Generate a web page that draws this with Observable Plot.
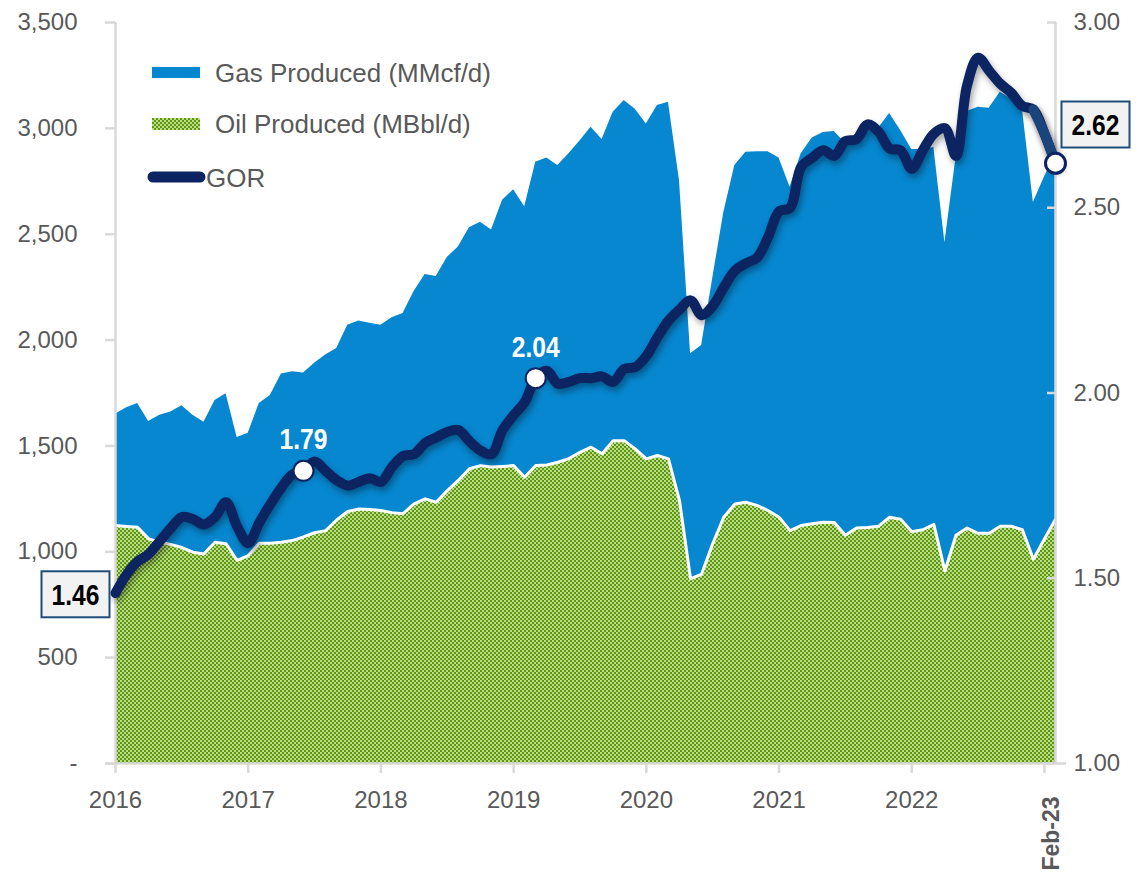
<!DOCTYPE html>
<html><head><meta charset="utf-8">
<script src="https://cdn.jsdelivr.net/npm/d3@7"></script>
<script src="https://cdn.jsdelivr.net/npm/@observablehq/plot@0.6"></script>
<style>html,body{margin:0;padding:0;background:#fff;}#chart{width:1140px;height:876px;}</style>
</head><body><div id="chart"></div>
<script>
// Monthly data, Jan-2016 (index 0) to Feb-2023 (index 85)
const gas = [1650,1680,1700,1615,1645,1660,1690,1645,1612,1714,1747,1540,
  1560,1700,1738,1840,1850,1845,1890,1930,1960,2070,2090,2080,
  2070,2105,2125,2230,2310,2300,2390,2440,2530,2557,2520,2660,
  2710,2630,2840,2860,2825,2880,2940,3005,2947,3076,3131,3090,
  3020,3108,3123,2753,1935,1974,2290,2600,2824,2887,2890,2890,
  2860,2722,2880,2955,2980,2985,2930,2960,2990,3000,3070,2990,
  2900,2900,2910,2460,2860,3080,3100,3095,3170,3140,3095,2650,
  2770,2880];
const oil = [1124,1120,1116,1061,1045,1035,1020,998,990,1045,1038,959,
  982,1040,1040,1045,1053,1070,1090,1100,1150,1190,1202,1200,
  1195,1185,1180,1226,1250,1234,1289,1337,1392,1407,1400,1403,
  1407,1352,1407,1410,1423,1440,1470,1494,1463,1525,1525,1486,
  1439,1455,1439,1242,872,895,1038,1163,1226,1234,1219,1195,
  1163,1100,1124,1132,1140,1138,1078,1112,1115,1121,1163,1154,
  1095,1104,1129,910,1078,1112,1087,1087,1121,1121,1104,965,
  1060,1154];
const gor = [1.46,1.51,1.545,1.565,1.60,1.635,1.665,1.66,1.645,1.665,1.705,1.64,
  1.595,1.65,1.70,1.745,1.78,1.79,1.815,1.79,1.765,1.75,1.76,1.77,
  1.76,1.80,1.83,1.835,1.865,1.88,1.895,1.90,1.87,1.845,1.835,1.90,
  1.94,1.975,2.04,2.06,2.025,2.03,2.04,2.04,2.045,2.03,2.065,2.07,
  2.10,2.15,2.195,2.225,2.25,2.21,2.235,2.285,2.33,2.35,2.365,2.42,
  2.49,2.50,2.61,2.635,2.655,2.64,2.68,2.685,2.725,2.705,2.66,2.655,
  2.605,2.655,2.70,2.715,2.64,2.83,2.905,2.87,2.835,2.81,2.775,2.765,
  2.70,2.62];

const xTicks = [0,12,24,36,48,60,72,84];
const xTickLabels = ["2016","2017","2018","2019","2020","2021","2022",""];
const endLabel = "Feb-23";
const yTicks = [0,500,1000,1500,2000,2500,3000,3500];
const gorTicks = [1.0,1.5,2.0,2.5,3.0];
const markedIdx = [17,38];
const boxedIdx = [0,85];
const legendLabels = ["Gas Produced (MMcf/d)","Oil Produced (MBbl/d)","GOR"];

const Y_MAX = 3500, GOR_MIN = 1, GOR_MAX = 3;
const k = Y_MAX / (GOR_MAX - GOR_MIN);
const toLeft = g => (g - GOR_MIN) * k;

const GAS="#0787cf", NAVY="#0c2461", NAVY2="#1a457c", GREEN="#5a9c00", GRID="#d9d9d9", TXT="#595959";
const FONT="'Liberation Sans', Arial, Helvetica, sans-serif";
const fmt2 = d3.format(".2f");

const rows = gas.map((g,i)=>({i, gas:g, oil:oil[i], gor:gor[i], gorY:toLeft(gor[i])}));
const last = rows.length - 1;

const chart = Plot.plot({
  width:1140, height:876,
  marginLeft:115, marginRight:85, marginTop:22, marginBottom:113,
  x:{domain:[0,last], label:null},
  y:{domain:[0,Y_MAX], label:null},
  style:{fontFamily:FONT, fontSize:"24px", color:TXT, background:"white", overflow:"visible"},
  marks:[
    Plot.areaY(rows,{x:"i", y:"gas", fill:GAS}),
    Plot.areaY(rows,{x:"i", y:"oil", fill:"url(#oilPat)"}),
    Plot.lineY(rows,{x:"i", y:"oil", stroke:"white", strokeWidth:3}),
    Plot.ruleX([0],{stroke:GRID, strokeWidth:2.5}),
    Plot.ruleX([last],{stroke:GRID, strokeWidth:2.5}),
    Plot.ruleY([0],{stroke:GRID, strokeWidth:2.5, insetLeft:-10, insetRight:-11}),
    Plot.axisY(yTicks,{anchor:"left", label:null, tickSize:10, tickPadding:28, stroke:GRID, strokeWidth:2.5, fill:TXT,
      tickFormat:d=> d===0 ? "-" : d3.format(",")(d)}),
    Plot.axisY(gorTicks.map(toLeft),{anchor:"right", label:null, tickSize:-9, tickPadding:27, stroke:GRID, strokeWidth:2.5, fill:TXT,
      tickFormat:d=> fmt2(d/k + GOR_MIN)}),
    Plot.axisX(xTicks,{anchor:"bottom", label:null, tickSize:10, tickPadding:17, stroke:GRID, strokeWidth:2.5, fill:TXT,
      tickFormat:d=> xTickLabels[xTicks.indexOf(d)]}),
    Plot.lineY(rows,{x:"i", y:"gorY", stroke:NAVY, strokeWidth:10, curve:"catmull-rom", strokeLinejoin:"round"}),
    Plot.lineY(rows.slice(last-2),{x:"i", y:"gorY", stroke:NAVY2, strokeWidth:10, curve:"catmull-rom", strokeLinejoin:"round"}),
    Plot.dot(markedIdx.map(i=>rows[i]),{x:"i", y:"gorY", r:10, fill:"white", stroke:NAVY, strokeWidth:2}),
    Plot.dot([rows[last]],{x:"i", y:"gorY", r:10, fill:"white", stroke:NAVY, strokeWidth:3}),
    Plot.text(markedIdx.map(i=>rows[i]),{x:"i", y:"gorY", text:d=>fmt2(d.gor), dy:-31, fill:"white",
      fontWeight:"bold", fontSize:30}),
    Plot.text([rows[boxedIdx[0]]],{x:"i", y:"gorY", text:d=>fmt2(d.gor), dx:-40, dy:2, fill:"black",
      fontWeight:"bold", fontSize:30}),
    Plot.text([rows[boxedIdx[1]]],{x:"i", y:"gorY", text:d=>fmt2(d.gor), dx:40, dy:-38, fill:"black",
      fontWeight:"bold", fontSize:30}),
    Plot.text([last],{x:d=>d, y:()=>0, text:()=>endLabel, rotate:-90, dx:-4, dy:70, fill:TXT,
      fontWeight:"bold", fontSize:23})
  ]
});
document.getElementById("chart").appendChild(chart);

const svg = d3.select(chart);
// checker pattern for oil
const defs = svg.insert("defs",":first-child");
const pat = defs.append("pattern").attr("id","oilPat").attr("patternUnits","userSpaceOnUse")
  .attr("width",4).attr("height",4);
pat.append("rect").attr("width",4).attr("height",4).attr("fill",GREEN);
pat.append("rect").attr("x",0).attr("y",0).attr("width",2).attr("height",2).attr("fill","white").attr("fill-opacity",0.6);
pat.append("rect").attr("x",2).attr("y",2).attr("width",2).attr("height",2).attr("fill","white").attr("fill-opacity",0.6);

// drop shadow on GOR line
svg.selectAll("g[aria-label='line']").each(function(){
  const s = this.getAttribute("stroke");
  if (s === NAVY || s === NAVY2) this.setAttribute("style","filter: drop-shadow(2px 4px 3px rgba(0,0,0,0.35))");
});

// narrow bold value labels + boxes
const labelSet = new Set([...markedIdx, ...boxedIdx].map(i=>fmt2(gor[i])));
const boxedSet = new Set(boxedIdx.map(i=>fmt2(gor[i])));
svg.selectAll("g[aria-label='text'] text").each(function(){
  const t = this.textContent;
  if (!labelSet.has(t)) return;
  const tr = this.getAttribute("transform") || "";
  this.setAttribute("transform", tr + " scale(0.82,1)");
  if (boxedSet.has(t)) {
    const b = this.getBBox();
    const m = chart.getScreenCTM().inverse().multiply(this.getScreenCTM());
    const px = b.x + b.width/2, py = b.y + b.height/2;
    const cx = m.a*px + m.c*py + m.e, cy = m.b*px + m.d*py + m.f;
    svg.append("rect")
      .attr("x", cx-34).attr("y", cy-23).attr("width",68).attr("height",46)
      .attr("fill","#f2f2f2").attr("stroke","#1f4e79").attr("stroke-width",2);
  }
});
svg.selectAll("g[aria-label='text']").raise();

// legend
const lg = svg.append("g").attr("font-family",FONT).attr("font-size",26).attr("fill",TXT).attr("text-anchor","start");
lg.append("rect").attr("x",152).attr("y",67).attr("width",48).attr("height",11).attr("fill",GAS);
lg.append("text").attr("x",215).attr("y",73).attr("dy","0.35em").text(legendLabels[0]);
lg.append("rect").attr("x",152).attr("y",118).attr("width",48).attr("height",12).attr("fill","url(#oilPat)");
lg.append("text").attr("x",215).attr("y",124).attr("dy","0.35em").text(legendLabels[1]);
lg.append("line").attr("x1",153).attr("x2",200).attr("y1",177).attr("y2",177)
  .attr("stroke",NAVY).attr("stroke-width",11).attr("stroke-linecap","round");
lg.append("text").attr("x",206).attr("y",178).attr("dy","0.35em").text(legendLabels[2]);
</script>
</body></html>
